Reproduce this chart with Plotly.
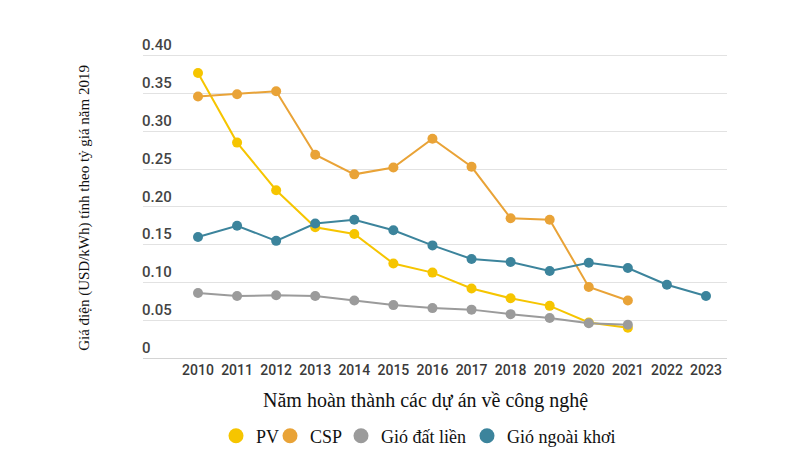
import plotly.graph_objects as go

years = list(range(2010, 2024))
pv = [0.377, 0.285, 0.222, 0.173, 0.164, 0.125, 0.113, 0.092, 0.079, 0.069, 0.047, 0.040]
csp = [0.346, 0.349, 0.353, 0.269, 0.243, 0.252, 0.290, 0.253, 0.185, 0.183, 0.094, 0.076]
onshore = [0.086, 0.082, 0.083, 0.082, 0.076, 0.070, 0.066, 0.064, 0.058, 0.053, 0.046, 0.044]
offshore = [0.160, 0.175, 0.155, 0.178, 0.183, 0.169, 0.149, 0.131, 0.127, 0.115, 0.126, 0.119, 0.097, 0.082]

series_names = ["PV", "CSP", "Gió đất liền", "Gió ngoài khơi"]
series_values = [pv, csp, onshore, offshore]
colors = ["#F6C500", "#E9A337", "#9B9B9B", "#3C849C"]
legend_ids = ["legend", "legend2", "legend3", "legend4"]

y_ticks = [0, 0.05, 0.10, 0.15, 0.20, 0.25, 0.30, 0.35, 0.40]
y_tick_text = ["0", "0.05", "0.10", "0.15", "0.20", "0.25", "0.30", "0.35", "0.40"]

x_title = "Năm hoàn thành các dự án về công nghệ"
y_title = "Giá điện (USD/kWh) tính theo tỷ giá năm 2019"

# page body has an 8px margin, so the figure is drawn 8px smaller and all
# pixel positions below are in figure coordinates (page coords minus 8)
OFF = 8
W, H = 800 - OFF, 450 - OFF
PX_PER_UNIT = 755.0
Y_TOP = 0.43
L, R, B = 143 - OFF, 73, 92
zero_y = H - B
ph = Y_TOP * PX_PER_UNIT
T = zero_y - ph
pw = W - L - R
legend_px = [236 - OFF, 290 - OFF, 361 - OFF, 487 - OFF]  # marker centres


def px_x(p):
    return (p - OFF - L) / pw


def px_y(p):
    return (zero_y - (p - OFF)) / ph


fig = go.Figure()
for name, vals, col in zip(series_names, series_values, colors):
    fig.add_trace(go.Scatter(
        x=years[:len(vals)], y=vals, mode="lines+markers", name=name,
        line=dict(color=col, width=2), marker=dict(color=col, size=10),
        showlegend=False, cliponaxis=False,
    ))
for name, col, lid in zip(series_names, colors, legend_ids):
    fig.add_trace(go.Scatter(
        x=[None], y=[None], mode="markers", name=name, legend=lid,
        marker=dict(color=col, size=15), showlegend=True,
    ))

legend_layouts = {}
for lid, px in zip(legend_ids, legend_px):
    legend_layouts[lid] = dict(
        x=(px - 20 - L) / pw, xanchor="left", xref="paper",
        y=px_y(436), yanchor="middle", yref="paper",
        orientation="h", bgcolor="rgba(0,0,0,0)",
        font=dict(family="Liberation Serif", size=18, color="#111"),
        itemclick=False, itemdoubleclick=False,
    )

fig.update_layout(
    width=W, height=H,
    margin=dict(l=L, r=R, t=T, b=B, autoexpand=False),
    paper_bgcolor="white", plot_bgcolor="white",
    xaxis=dict(
        range=[2010 - 55 / 39.08, 2023 + 21 / 39.08],
        tickmode="array", tickvals=years, ticktext=[str(y) for y in years],
        showgrid=False, zeroline=False, showline=False, ticks="",
        tickfont=dict(family="Roboto", size=14, color="#3a3a3a", weight=500),
        ticklabelstandoff=2,
    ),
    yaxis=dict(
        range=[0, Y_TOP],
        tickmode="array", tickvals=y_ticks, ticktext=y_tick_text,
        showgrid=True, gridcolor="#e2e2e2", gridwidth=1,
        zeroline=True, zerolinecolor="#d4d4d4", zerolinewidth=1,
        showline=False, ticks="",
        ticklabelposition="inside top", ticklabelstandoff=-4,
        tickfont=dict(family="Roboto", size=15, color="#444444", weight=500),
    ),
    annotations=[
        dict(
            text=x_title, xref="paper", yref="paper",
            x=px_x(425.5), y=px_y(400),
            xanchor="center", yanchor="middle", showarrow=False,
            font=dict(family="Liberation Serif", size=20, color="#111"),
        ),
        dict(
            text=y_title, xref="paper", yref="paper",
            x=px_x(85), y=px_y(208), textangle=-90,
            xanchor="center", yanchor="middle", showarrow=False,
            font=dict(family="Liberation Serif", size=15, color="#111"),
        ),
    ],
    **legend_layouts,
)

fig.write_html("out.html")
